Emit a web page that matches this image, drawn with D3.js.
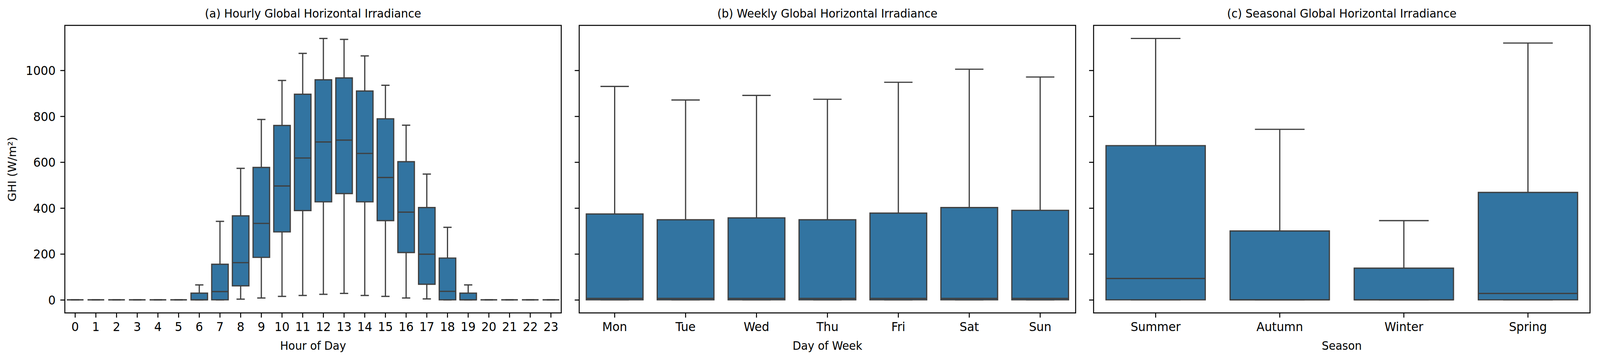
<!DOCTYPE html>
<html>
<head>
<meta charset="utf-8">
<script src="https://cdn.jsdelivr.net/npm/d3@7"></script>
<style>
  html, body { margin: 0; padding: 0; background: #fff; overflow: hidden; }
  #chart svg { display: block; }
  text { font-family: "DejaVu Sans", sans-serif; fill: #000; }
</style>
</head>
<body>
<div id="chart"></div>
<script>
// ---------------- data ----------------
const hourLabels = d3.range(24).map(String);
const hourLow = [0,0,0,0,0,0, 0,0,3,8,15,19,24,28,19,15,8,4,0,0, 0,0,0,0];
const hourQ1  = [0,0,0,0,0,0, 0,0,61,185,296,389,427,463,427,345,206,68,0,0, 0,0,0,0];
const hourMed = [0,0,0,0,0,0, 0,36,162,333,496,618,688,696,638,533,382,199,37,0, 0,0,0,0];
const hourQ3  = [0,0,0,0,0,0, 29,155,366,577,760,896,959,967,910,789,602,402,182,29, 0,0,0,0];
const hourHigh= [0,0,0,0,0,0, 65,342,573,786,956,1074,1139,1135,1063,935,761,548,316,65, 0,0,0,0];

const dayLabels = ['Mon','Tue','Wed','Thu','Fri','Sat','Sun'];
const dayLow  = [0,0,0,0,0,0,0];
const dayQ1   = [0,0,0,0,0,0,0];
const dayMed  = [6,6,6,6,6,6,6];
const dayQ3   = [374,349,357,349,378,402,390];
const dayHigh = [930,871,891,874,948,1005,971];

const seasonLabels = ['Summer','Autumn','Winter','Spring'];
const seasonLow  = [0,0,0,0];
const seasonQ1   = [0,0,0,0];
const seasonMed  = [93,0,0,28];
const seasonQ3   = [672,300,138,468];
const seasonHigh = [1139,743,345,1119];

const yTicks = [0, 200, 400, 600, 800, 1000];

// ---------------- layout ----------------
const width = 4277, height = 917;
const plotTop = 65, plotBottom = 801.5;
const panelW = 1327, gap = 48, left0 = 173.3;
const boxFill = '#3274a1', lineColor = '#3f3f3f';

// fit the drawing to whatever the window really is
const svg = d3.select('#chart').append('svg')
  .attr('viewBox', [0, 0, width, height])
  .attr('preserveAspectRatio', 'none')
  .style('width', '100vw')
  .style('height', '100vh')
  .style('background', '#fff');

const y = d3.scaleLinear().domain([-57, 1196]).range([plotBottom, plotTop]);

const panels = [
  { title: '(a) Hourly Global Horizontal Irradiance', xlabel: 'Hour of Day',
    cats: hourLabels, lo: hourLow, q1: hourQ1, med: hourMed, q3: hourQ3, hi: hourHigh },
  { title: '(b) Weekly Global Horizontal Irradiance', xlabel: 'Day of Week',
    cats: dayLabels, lo: dayLow, q1: dayQ1, med: dayMed, q3: dayQ3, hi: dayHigh },
  { title: '(c) Seasonal Global Horizontal Irradiance', xlabel: 'Season',
    cats: seasonLabels, lo: seasonLow, q1: seasonQ1, med: seasonMed, q3: seasonQ3, hi: seasonHigh }
];

panels.forEach((p, i) => {
  const x0 = left0 + i * (panelW + gap);
  const x = d3.scaleBand().domain(p.cats).range([x0, x0 + panelW]).paddingInner(0.2).paddingOuter(0.1);
  const g = svg.append('g');
  const bw = x.bandwidth();

  // boxes
  p.cats.forEach((c, j) => {
    const cx = x(c) + bw / 2;
    const b = g.append('g')
      .attr('stroke', lineColor)
      .attr('stroke-width', 3.2);
    // whiskers
    b.append('line').attr('x1', cx).attr('x2', cx).attr('y1', y(p.q3[j])).attr('y2', y(p.hi[j]));
    b.append('line').attr('x1', cx).attr('x2', cx).attr('y1', y(p.q1[j])).attr('y2', y(p.lo[j]));
    // caps
    b.append('line').attr('x1', cx - bw / 4).attr('x2', cx + bw / 4).attr('y1', y(p.hi[j])).attr('y2', y(p.hi[j]));
    b.append('line').attr('x1', cx - bw / 4).attr('x2', cx + bw / 4).attr('y1', y(p.lo[j])).attr('y2', y(p.lo[j]));
    // box as path so zero height boxes still draw
    const bx = x(c), by0 = y(p.q3[j]), by1 = y(p.q1[j]);
    b.append('path')
      .attr('d', `M${bx},${by0}H${bx + bw}V${by1}H${bx}Z`)
      .attr('fill', boxFill)
      .attr('stroke-linejoin', 'miter');
    // median
    b.append('line').attr('x1', bx).attr('x2', bx + bw).attr('y1', y(p.med[j])).attr('y2', y(p.med[j]));
  });

  // frame
  g.append('rect')
    .attr('x', x0).attr('y', plotTop)
    .attr('width', panelW).attr('height', plotBottom - plotTop)
    .attr('fill', 'none').attr('stroke', '#000').attr('stroke-width', 2.6);

  // x axis
  const xAxis = g.append('g')
    .attr('transform', `translate(0,${plotBottom})`)
    .call(d3.axisBottom(x).tickSize(12).tickPadding(11));
  xAxis.select('.domain').remove();
  xAxis.selectAll('line').attr('stroke', '#000').attr('stroke-width', 2.6);
  xAxis.selectAll('text')
    .attr('font-size', '31.5px')
    .attr('dy', null)
    .attr('y', 46.5)
    .attr('fill', '#000')
    .style('font-family', '"DejaVu Sans", sans-serif');

  // y axis
  const yAxis = g.append('g')
    .attr('transform', `translate(${x0},0)`)
    .call(d3.axisLeft(y).tickValues(yTicks).tickSize(12).tickPadding(12.5)
      .tickFormat(i === 0 ? d3.format('d') : () => ''));
  yAxis.select('.domain').remove();
  yAxis.selectAll('line').attr('stroke', '#000').attr('stroke-width', 2.6);
  yAxis.selectAll('text')
    .attr('font-size', '31.5px')
    .attr('dy', '0.36em')
    .attr('fill', '#000')
    .style('font-family', '"DejaVu Sans", sans-serif');

  // title
  g.append('text')
    .attr('x', x0 + panelW / 2).attr('y', 45)
    .attr('text-anchor', 'middle')
    .attr('font-size', '30px')
    .text(p.title);

  // x label
  g.append('text')
    .attr('x', x0 + panelW / 2).attr('y', 896)
    .attr('text-anchor', 'middle')
    .attr('font-size', '29.5px')
    .text(p.xlabel);
});

// y label
svg.append('text')
  .attr('transform', `translate(43,${(plotTop + plotBottom) / 2}) rotate(-90)`)
  .attr('text-anchor', 'middle')
  .attr('font-size', '29.5px')
  .text('GHI (W/m²)');
</script>
</body>
</html>
